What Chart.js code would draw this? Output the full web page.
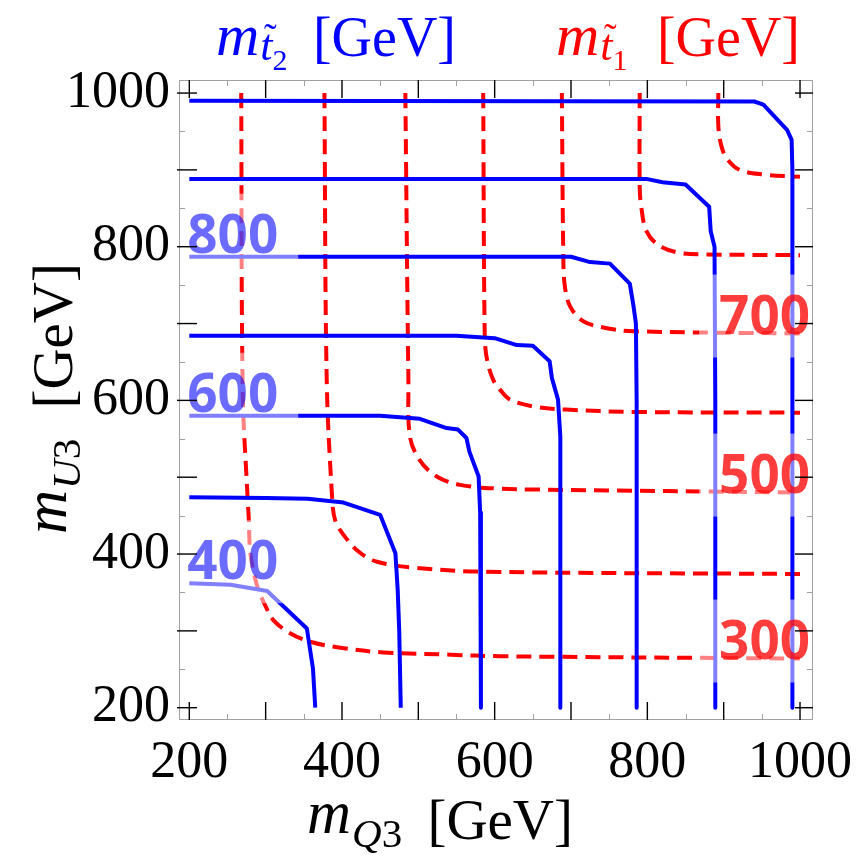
<!DOCTYPE html>
<html>
<head>
<meta charset="utf-8">
<script src="https://cdn.jsdelivr.net/npm/chart.js@4.4.0/dist/chart.umd.min.js"></script>
<style>
  html, body { margin: 0; padding: 0; background: #fff; }
  canvas { display: block; }
</style>
</head>
<body>
<canvas id="chart" width="859" height="857"></canvas>
<script>
// axis ticks
const tickLabelValues = [200, 400, 600, 800, 1000];
const majorTickValues = [200, 300, 400, 500, 600, 700, 800, 900, 1000];
const minorTickValues = [250, 350, 450, 550, 650, 750, 850, 950];

// m_t2 contours (blue, solid) as [mQ3, mU3]
const t2_400  = [[200,362],[254,360],[302,352],[354,303],[362,251],[365,200]];
const t2_500  = [[200,474],[300,473],[355,472],[402,467],[450,451],[470,401],[473,353],[475,300],[477,200]];
const t2_600  = [[200,580],[450,580],[502,576],[537,564],[552,562],[563,551],[567,533],[579,501],[581,454],[582,200]];
const t2_700  = [[200,684],[550,684],[600,681],[629,672],[650,671],[672,651],[675,629],[683,601],[686,553],[686,200]];
const t2_800  = [[200,787],[700,787],[725,780],[751,778],[777,752],[782,722],[785,700],[786,600],[786,200]];
const t2_900  = [[200,888],[800,888],[820,884],[850,881],[881,852],[883,820],[888,800],[889,600],[889,200]];
const t2_1000 = [[200,990],[940,989],[952,985],[983,952],[989,939],[990,900],[990,200]];

// m_t1 contours (red, dashed)
const t1_300 = [[268,1000],[270,610],[276,480],[278,444],[280,401],[289,358],[300,332],[310,314],[332,297],[358,286],[398,278],[454,272],[542,269],[607,267],[1000,264]];
const t1_400 = [[377,1000],[380,627],[387,475],[391,444],[402,425],[422,403],[446,390],[498,382],[585,377],[1000,374]];
const t1_500 = [[483,1000],[487,627],[489,553],[502,522],[524,501],[555,490],[607,485],[650,484],[1000,480]];
const t1_600 = [[585,1000],[587,683],[590,653],[598,627],[607,614],[620,601],[651,592],[694,588],[782,585],[1000,584]];
const t1_700 = [[688,1000],[690,783],[692,748],[699,722],[716,703],[747,694],[782,690],[1000,687]];
const t1_800 = [[790,1000],[790,878],[792,852],[799,820],[816,801],[843,792],[878,790],[1000,789]];
const t1_900 = [[893,1000],[893,957],[897,931],[904,915],[921,900],[952,894],[1000,891]];

const t2Curves = [t2_400, t2_500, t2_600, t2_700, t2_800, t2_900, t2_1000];
const t1Curves = [t1_300, t1_400, t1_500, t1_600, t1_700, t1_800, t1_900];

// contour labels: blue at left end, red at right end
const t2Labels = [[t2_400, '400'], [t2_600, '600'], [t2_800, '800']];
const t1Labels = [[t1_300, '300'], [t1_500, '500'], [t1_700, '700']];

const SERIF = '"Liberation Serif", "DejaVu Serif", serif';

function toPoints(c){ return c.map(p => ({x: p[0], y: p[1]})); }

const datasets = [];
t2Curves.forEach(c => datasets.push({
  data: toPoints(c), showLine: true, borderColor: '#0000ff', borderWidth: 4,
  pointRadius: 0, tension: 0, borderJoinStyle: 'round'
}));
t1Curves.forEach(c => datasets.push({
  data: toPoints(c), showLine: true, borderColor: '#ff0000', borderWidth: 4,
  borderDash: [15, 8], pointRadius: 0, tension: 0.35
}));

const contourLabels = {
  id: 'contourLabels',
  afterDatasetsDraw(chart){
    const {ctx, chartArea: a, scales: {x, y}} = chart;
    ctx.save();
    ctx.beginPath(); ctx.rect(a.left, a.top, a.right - a.left, a.bottom - a.top); ctx.clip();
    ctx.font = 'bold 53px "Open Sans", "Noto Sans", sans-serif';
    const items = [];
    t2Labels.forEach(([c, txt]) => {
      const px = x.getPixelForValue(c[0][0]), py = y.getPixelForValue(c[0][1]);
      const w = ctx.measureText(txt).width;
      items.push({txt, left: px - 2, base: py - 4, w, color: 'rgba(0,0,255,0.58)'});
    });
    t1Labels.forEach(([c, txt]) => {
      const p = c[c.length - 1];
      const px = x.getPixelForValue(p[0]), py = y.getPixelForValue(p[1]);
      const w = ctx.measureText(txt).width;
      items.push({txt, left: px + 10 - w, base: py, w, color: 'rgba(255,0,0,0.76)'});
    });
    // lighten the curves under each label
    ctx.fillStyle = 'rgba(255,255,255,0.5)';
    items.forEach(it => ctx.fillRect(it.left - 20, it.base - 59, it.w + 40, 83));
    ctx.textAlign = 'left'; ctx.textBaseline = 'alphabetic';
    items.forEach(it => { ctx.fillStyle = it.color; ctx.fillText(it.txt, it.left, it.base); });
    ctx.restore();
  }
};

function seg(ctx, x1, y1, x2, y2){ ctx.beginPath(); ctx.moveTo(x1, y1); ctx.lineTo(x2, y2); ctx.stroke(); }

// m with a (tilded) subscript and a sub-subscript / plain subscript
function drawSymbol(ctx, x0, base, sub, subsub, tilde, mSize, subSize){
  ctx.textAlign = 'left'; ctx.textBaseline = 'alphabetic';
  ctx.font = 'italic ' + mSize + 'px ' + SERIF;
  ctx.fillText('m', x0, base);
  let x = x0 + ctx.measureText('m').width + 1;
  ctx.font = 'italic ' + subSize + 'px ' + SERIF;
  const sb = base + (tilde ? 5 : 14);
  ctx.fillText(sub, x, sb);
  const sw = ctx.measureText(sub).width;
  if (tilde){
    ctx.font = '38px ' + SERIF;
    ctx.textAlign = 'center';
    ctx.fillText('\u02DC', x + sw / 2 + 4, sb - 10);
    ctx.textAlign = 'left';
  }
  x += sw;
  ctx.font = (tilde ? 30 : subSize) + 'px ' + SERIF;
  ctx.fillText(subsub, x, tilde ? sb + 10 : sb);
}

const frameAndTitles = {
  id: 'frameAndTitles',
  afterDraw(chart){
    const {ctx, chartArea: a, scales: {x, y}} = chart;
    ctx.save();
    // frame
    ctx.strokeStyle = '#a0a0a0'; ctx.lineWidth = 1;
    ctx.strokeRect(Math.round(a.left) + 0.5, Math.round(a.top) + 0.5,
                   Math.round(a.right - a.left) - 1, Math.round(a.bottom - a.top) - 1);
    // minor ticks
    minorTickValues.forEach(v => {
      const px = Math.round(x.getPixelForValue(v)) + 0.5, py = Math.round(y.getPixelForValue(v)) + 0.5;
      seg(ctx, px, a.bottom, px, a.bottom - 6); seg(ctx, px, a.top, px, a.top + 6);
      seg(ctx, a.left, py, a.left + 6, py); seg(ctx, a.right, py, a.right - 6, py);
    });
    // major ticks
    ctx.strokeStyle = '#000'; ctx.lineWidth = 1.4;
    majorTickValues.forEach(v => {
      const px = x.getPixelForValue(v), py = y.getPixelForValue(v);
      seg(ctx, px, a.bottom, px, a.bottom - 18); seg(ctx, px, a.top, px, a.top + 18);
      seg(ctx, a.left - 2, py, a.left + 18, py); seg(ctx, a.right, py, a.right - 18, py);
    });

    // top titles
    ctx.fillStyle = '#0000ff';
    drawSymbol(ctx, 216, 55, 't', '2', true, 60, 44);
    ctx.font = '56px ' + SERIF; ctx.textAlign = 'right';
    ctx.fillText('[GeV]', 456, 56);
    ctx.fillStyle = '#ff0000';
    drawSymbol(ctx, 556, 55, 't', '1', true, 60, 44);
    ctx.font = '56px ' + SERIF; ctx.textAlign = 'right';
    ctx.fillText('[GeV]', 800, 56);

    // x axis title
    ctx.fillStyle = '#000';
    drawSymbol(ctx, 307, 833, 'Q', '3', false, 61, 41);
    ctx.font = '57px ' + SERIF; ctx.textAlign = 'right';
    ctx.fillText('[GeV]', 573, 839);

    // y axis title
    ctx.save();
    ctx.rotate(-Math.PI / 2);
    drawSymbol(ctx, -534, 66, 'U', '3', false, 61, 41);
    ctx.font = '57px ' + SERIF; ctx.textAlign = 'right';
    ctx.fillText('[GeV]', -263, 72);
    ctx.restore();

    ctx.restore();
  }
};

new Chart(document.getElementById('chart').getContext('2d'), {
  type: 'scatter',
  data: { datasets },
  options: {
    responsive: false,
    animation: false,
    devicePixelRatio: 1,
    layout: { padding: { top: 80, right: 46, left: 0, bottom: 0 } },
    plugins: { legend: { display: false }, tooltip: { enabled: false } },
    scales: {
      x: {
        type: 'linear', min: 186.5, max: 1017,
        grid: { display: false, drawTicks: false }, border: { display: false },
        afterBuildTicks: s => { s.ticks = tickLabelValues.map(v => ({value: v})); },
        afterFit: s => { s.height = 137; s.paddingLeft = 0; s.paddingRight = 0; },
        ticks: { font: { family: SERIF, size: 52 }, color: '#000', padding: 12, maxRotation: 0,
                 autoSkip: false, callback: v => String(v) }
      },
      y: {
        type: 'linear', min: 184, max: 1017,
        grid: { display: false, drawTicks: false }, border: { display: false },
        afterBuildTicks: s => { s.ticks = tickLabelValues.map(v => ({value: v})); },
        afterFit: s => { s.width = 179; s.paddingTop = 0; s.paddingBottom = 0; },
        ticks: { font: { family: SERIF, size: 52 }, color: '#000', padding: 9,
                 autoSkip: false, callback: v => String(v) }
      }
    }
  },
  plugins: [contourLabels, frameAndTitles]
});
</script>
</body>
</html>
